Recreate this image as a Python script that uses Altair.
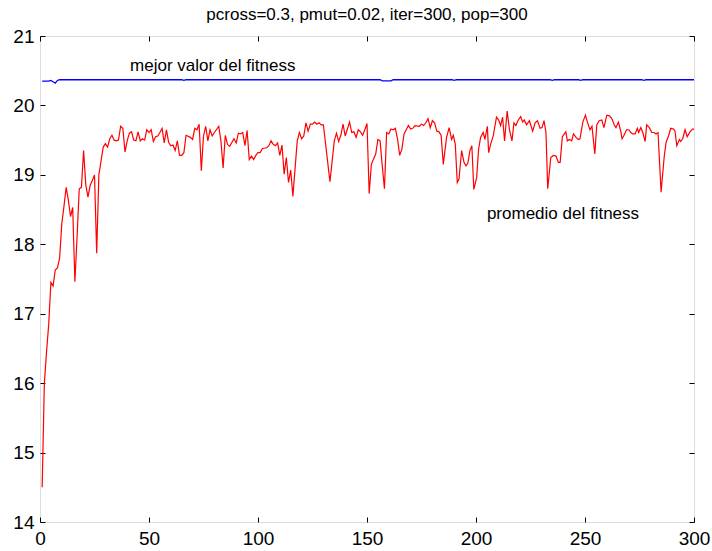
import altair as alt
import pandas as pd

# ---- data ----
red_x = [1, 2, 3, 4, 5, 6, 7, 8, 9, 10, 11, 12, 13, 14, 15, 16, 17, 18, 19, 20,
         21, 22, 23, 24, 25, 26, 27, 28, 29, 30, 31, 32, 33, 34, 35, 36, 37, 38, 39, 40,
         41, 42, 43, 44, 45, 46, 47, 48, 49, 50, 51, 52, 53, 54, 55, 56, 57, 58, 59, 60,
         61, 62, 63, 64, 65, 66, 67, 69, 70, 71, 72, 73, 74, 75, 76, 77, 78, 79, 80, 82,
         83, 84, 85, 86, 87, 89, 90, 91, 92, 93, 94, 95, 96, 97, 98, 99, 100, 101, 102, 104,
         105, 106, 107, 108, 109, 110, 111, 112, 113, 114, 115, 116, 118, 119, 120, 121, 122, 123, 124, 125,
         126, 127, 128, 129, 130, 133, 135, 136, 137, 138, 139, 140, 142, 143, 144, 145, 146, 147, 148, 149,
         150, 151, 152, 153, 154, 155, 156, 157, 158, 159, 160, 161, 162, 163, 164, 165, 166, 167, 169, 170,
         171, 172, 174, 175, 176, 177, 178, 179, 180, 181, 182, 183, 184, 185, 186.5, 187.7, 188.8, 189.6, 190.5, 191.4,
         192.2, 193.4, 194.5, 195.4, 196.3, 197.2, 198.1, 199, 200.3, 201.2, 202.1, 203.3, 204.1, 205.2, 205.8, 206.7, 207.9, 209.4, 210.4, 211.3,
         212.2, 213.1, 214.3, 215.3, 216.5, 217.4, 218.3, 219.4, 220.5, 221.4, 222.1, 223.2, 224.5, 226, 227.1, 228.2, 229.4, 230.3, 231.2, 232.1,
         232.9, 234.3, 235.5, 236.7, 237.8, 238.6, 239.6, 241.2, 241.9, 242.8, 243.9, 244.7, 245.9, 247, 247.7, 249, 250.2, 251.1, 252.3, 253.2,
         254.5, 255.4, 256.5, 257.7, 258.7, 260, 261.2, 262.3, 263.3, 264.2, 265.3, 266.4, 267, 267.9, 269.1, 270.1, 271, 271.9, 273, 274,
         274.6, 275.6, 276.5, 277.6, 278.3, 279.5, 280.6, 281.7, 282.6, 283.5, 284.9, 286.3, 287.2, 288.3, 289.3, 290.6, 291.3, 292.1, 293.3, 293.9,
         294.8, 295.9, 296.9, 298.2, 299.4, 300]
red_y = [14.50, 16.00, 16.45, 16.85, 17.45, 17.40, 17.63, 17.66, 17.80, 18.30, 18.55, 18.82, 18.64, 18.40, 18.53, 17.46, 18.10, 18.80, 18.82, 19.35,
         18.86, 18.68, 18.85, 18.92, 19.00, 17.87, 19.00, 19.20, 19.40, 19.45, 19.40, 19.52, 19.57, 19.50, 19.49, 19.50, 19.70, 19.67, 19.33, 19.49,
         19.60, 19.62, 19.50, 19.49, 19.62, 19.49, 19.52, 19.50, 19.65, 19.61, 19.65, 19.48, 19.55, 19.56, 19.61, 19.67, 19.46, 19.65, 19.47, 19.42,
         19.43, 19.35, 19.49, 19.28, 19.28, 19.32, 19.57, 19.54, 19.51, 19.67, 19.65, 19.73, 19.06, 19.56, 19.70, 19.49, 19.65, 19.56, 19.61, 19.70,
         19.49, 19.10, 19.57, 19.44, 19.41, 19.52, 19.46, 19.60, 19.59, 19.61, 19.42, 19.64, 19.22, 19.27, 19.22, 19.28, 19.32, 19.32, 19.38, 19.39,
         19.42, 19.49, 19.44, 19.42, 19.46, 19.28, 19.43, 19.01, 19.25, 18.89, 19.07, 18.69, 19.49, 19.61, 19.52, 19.56, 19.75, 19.63, 19.73, 19.73,
         19.76, 19.73, 19.75, 19.72, 19.72, 18.90, 19.49, 19.60, 19.48, 19.57, 19.73, 19.56, 19.76, 19.61, 19.62, 19.54, 19.65, 19.62, 19.57, 19.65,
         19.74, 18.73, 19.15, 19.23, 19.30, 19.51, 19.49, 19.13, 18.80, 19.61, 19.59, 19.66, 19.65, 19.67, 19.52, 19.28, 19.37, 19.59, 19.71, 19.66,
         19.67, 19.71, 19.70, 19.73, 19.71, 19.75, 19.81, 19.68, 19.78, 19.75, 19.63, 19.62, 19.57, 19.15, 19.54, 19.68, 19.51, 19.57, 19.44, 18.89,
         18.94, 19.35, 19.18, 19.13, 19.17, 19.35, 19.42, 18.79, 18.96, 19.37, 19.54, 19.61, 19.51, 19.70, 19.32, 19.44, 19.56, 19.83, 19.79, 19.71,
         19.83, 19.49, 19.92, 19.66, 19.49, 19.75, 19.71, 19.79, 19.84, 19.76, 19.79, 19.72, 19.78, 19.63, 19.75, 19.78, 19.67, 19.68, 19.78, 19.61,
         18.80, 19.25, 19.28, 19.27, 19.18, 19.18, 19.55, 19.62, 19.49, 19.51, 19.49, 19.59, 19.54, 19.51, 19.52, 19.76, 19.86, 19.76, 19.65, 19.70,
         19.30, 19.72, 19.78, 19.79, 19.68, 19.86, 19.85, 19.81, 19.73, 19.68, 19.76, 19.63, 19.52, 19.57, 19.65, 19.65, 19.61, 19.59, 19.59, 19.67,
         19.61, 19.68, 19.61, 19.48, 19.72, 19.68, 19.61, 19.61, 19.59, 19.61, 18.75, 19.25, 19.47, 19.56, 19.67, 19.66, 19.63, 19.42, 19.51, 19.48,
         19.52, 19.65, 19.55, 19.62, 19.66, 19.66]

blue_x = [1, 4, 5, 6, 7, 8, 9, 65, 66, 67, 156, 157, 161, 162, 189, 190, 191,
          234, 235, 236, 247, 248, 249, 276, 277, 278, 300]
blue_y = [20.35, 20.35, 20.36, 20.34, 20.32, 20.36, 20.37, 20.37, 20.36, 20.37, 20.37, 20.355, 20.355, 20.37, 20.37, 20.36, 20.37,
          20.37, 20.36, 20.37, 20.37, 20.36, 20.37, 20.37, 20.36, 20.37, 20.37]

x_ticks = [0, 50, 100, 150, 200, 250, 300]
y_ticks = [14, 15, 16, 17, 18, 19, 20, 21]

title_text = "pcross=0.3, pmut=0.02, iter=300, pop=300"
label_texts = ["mejor valor del fitness", "promedio del fitness"]
label_x = [41.3, 205.0]
label_y = [20.57, 18.44]

# ---- chart ----
FONT = "Liberation Sans"
red = pd.DataFrame({"x": red_x, "y": red_y})
blue = pd.DataFrame({"x": blue_x, "y": blue_y})
labels = pd.DataFrame({"x": label_x, "y": label_y, "t": label_texts})

xscale = alt.Scale(domain=[0, 300], nice=False, zero=False)
yscale = alt.Scale(domain=[14, 21], nice=False, zero=False)

common = dict(domain=False, grid=False, ticks=True, tickSize=5, tickColor="black",
              tickWidth=1, offset=-5, labelFont=FONT, labelFontSize=19,
              labelColor="black", title=None, labelOverlap=False, labelFlush=False)

x_bottom = alt.Axis(orient="bottom", values=x_ticks, labelPadding=7, **common)
y_left = alt.Axis(orient="left", values=y_ticks, labelPadding=6, format="d", **common)
x_top = alt.Axis(orient="top", values=x_ticks, labels=False, **common)
y_right = alt.Axis(orient="right", values=y_ticks, labels=False, **common)

red_line = alt.Chart(red).mark_line(color="#ff0000", strokeWidth=1.2).encode(
    x=alt.X("x:Q", scale=xscale, axis=x_bottom),
    y=alt.Y("y:Q", scale=yscale, axis=y_left),
)
blue_line = alt.Chart(blue).mark_line(color="#0000ff", strokeWidth=1.3).encode(
    x=alt.X("x:Q", scale=xscale, axis=x_top),
    y=alt.Y("y:Q", scale=yscale, axis=y_right),
)
text = alt.Chart(labels).mark_text(font=FONT, fontSize=17, color="black",
                                   align="left", baseline="middle").encode(
    x=alt.X("x:Q", scale=xscale, axis=None),
    y=alt.Y("y:Q", scale=yscale, axis=None),
    text="t:N",
)

chart = alt.layer(red_line, blue_line, text).resolve_axis(
    x="independent", y="independent"
).properties(
    width=654, height=486,
    title=alt.TitleParams(title_text, font=FONT, fontSize=17, fontWeight="normal",
                          color="black", anchor="middle", offset=3),
    autosize=alt.AutoSizeParams(type="none"),
    padding={"left": 40, "top": 36, "right": 18, "bottom": 29},
).configure_view(stroke="black", strokeWidth=1).configure(background="white")

chart.save("out.html", embed_options={"renderer": "svg", "actions": False})
